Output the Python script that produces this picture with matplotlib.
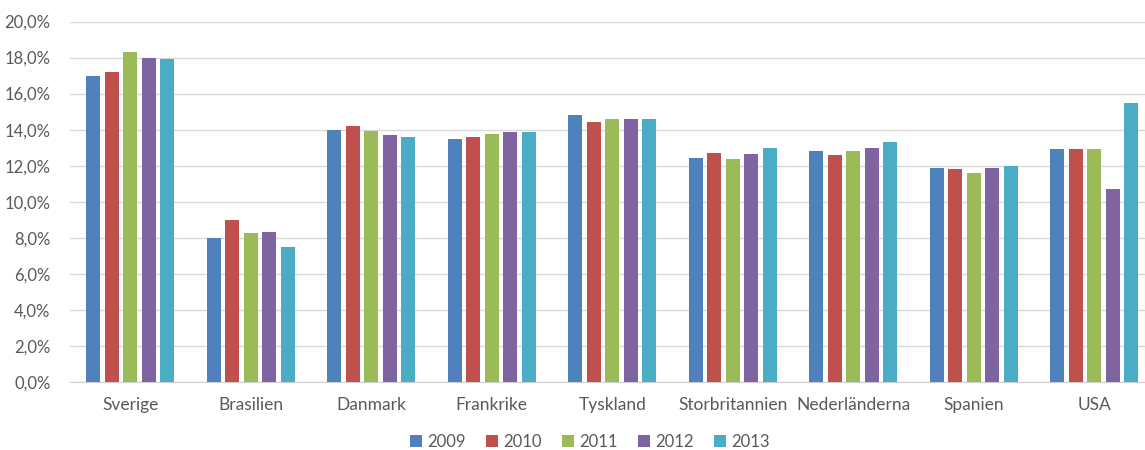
import matplotlib
matplotlib.use("Agg")
import matplotlib.pyplot as plt
import numpy as np
from matplotlib.ticker import FuncFormatter

categories = ["Sverige", "Brasilien", "Danmark", "Frankrike", "Tyskland",
              "Storbritannien", "Nederländerna", "Spanien", "USA"]
years = ["2009", "2010", "2011", "2012", "2013"]
v2009 = [17.0, 8.0, 14.0, 13.5, 14.8, 12.45, 12.8, 11.9, 12.9]
v2010 = [17.2, 9.0, 14.2, 13.6, 14.4, 12.7, 12.6, 11.8, 12.9]
v2011 = [18.3, 8.25, 13.9, 13.75, 14.6, 12.35, 12.8, 11.6, 12.9]
v2012 = [18.0, 8.3, 13.7, 13.85, 14.6, 12.65, 13.0, 11.9, 10.7]
v2013 = [17.9, 7.5, 13.6, 13.85, 14.6, 13.0, 13.3, 12.0, 15.5]
series = [v2009, v2010, v2011, v2012, v2013]
colors = ["#4F81BD", "#C0504D", "#9BBB59", "#8064A2", "#4BACC6"]

plt.rcParams['font.family'] = ['Lato', 'DejaVu Sans']

fig = plt.figure(figsize=(11.45, 4.5), dpi=100)
ax = fig.add_axes([70/1145, 1 - 382/450, 1084.5/1145, (382-21.5)/450])

x = np.arange(len(categories))
step = 0.1535
width = 0.119
for i, (vals, c, yr) in enumerate(zip(series, colors, years)):
    ax.bar(x + (i - 2) * step, np.array(vals) / 100, width=width, color=c, label=yr, zorder=3)

ax.set_xlim(-0.5, len(categories) - 0.5)
ax.set_ylim(0, 0.20)
ax.set_yticks(np.arange(0, 0.2001, 0.02))
ax.yaxis.set_major_formatter(FuncFormatter(lambda v, p: f"{v*100:.1f}%".replace(".", ",")))
ax.set_xticks(x)
ax.set_xticklabels(categories, fontsize=12.5)
ax.grid(axis='y', color='#d9d9d9', linewidth=1, zorder=0)
for s in ["top", "right", "left"]:
    ax.spines[s].set_visible(False)
ax.spines["bottom"].set_color('#d0d0d0')
ax.tick_params(axis='both', length=0, colors='#595959')
ax.tick_params(axis='y', labelsize=12, pad=14)
ax.tick_params(axis='x', pad=11)

fig.legend(loc='center', bbox_to_anchor=(590/1145, 1 - 442/450), ncol=5, frameon=False,
           handlelength=0.7, handleheight=0.7, handletextpad=0.35, columnspacing=1.2,
           fontsize=12, labelcolor='#595959')

fig.savefig("out.png", dpi=100)
